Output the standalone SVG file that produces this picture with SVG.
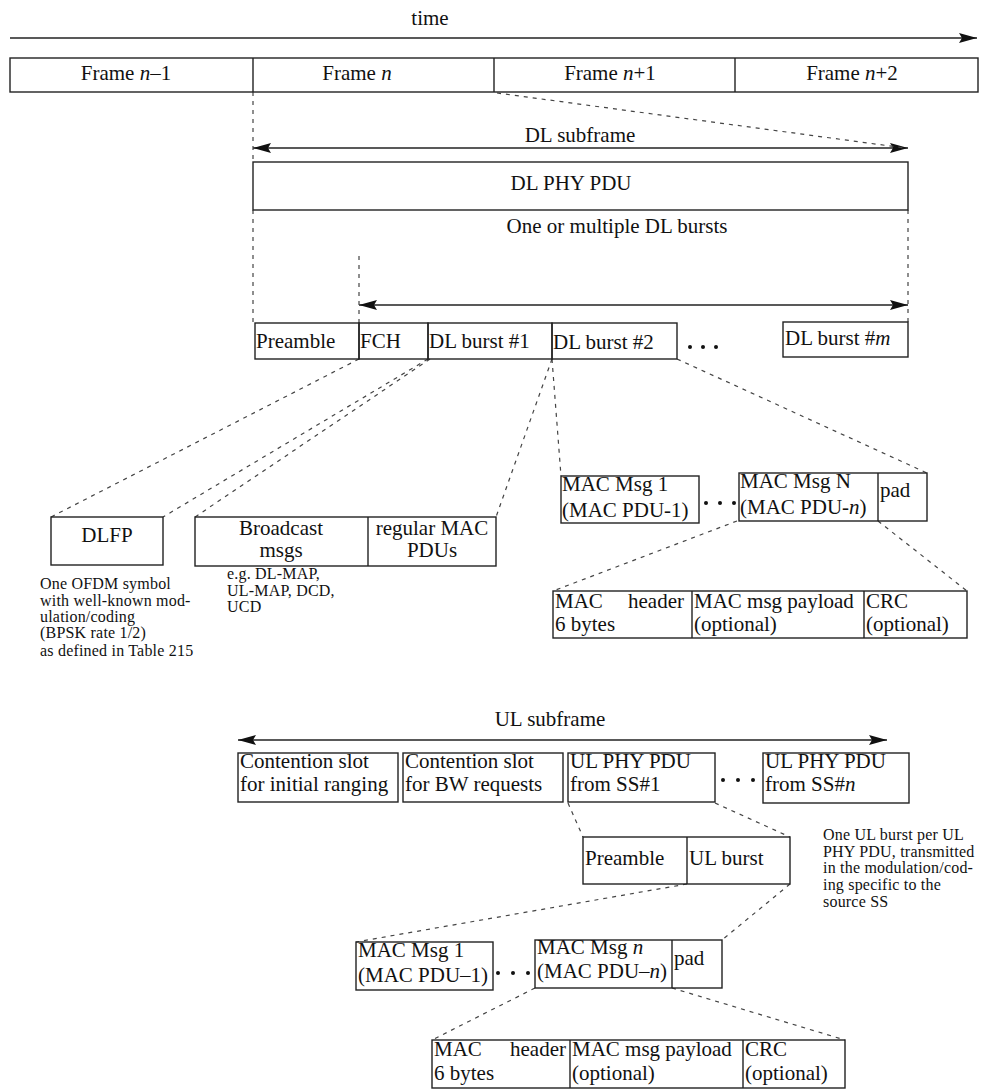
<svg xmlns="http://www.w3.org/2000/svg" width="983" height="1091" viewBox="0 0 983 1091" font-family="'Liberation Serif', 'DejaVu Serif', serif">
<style>
.box{fill:none;stroke:#222;stroke-width:1.4}
.ln{fill:none;stroke:#222;stroke-width:1.4}
.dash{fill:none;stroke:#444;stroke-width:1.2;stroke-dasharray:4 5}
text{font-family:'Liberation Serif','DejaVu Serif',serif;font-size:21px;fill:#111}
text.s{font-size:16px;letter-spacing:0.2px}
.c{text-anchor:middle}
.e{text-anchor:end}
.dot{fill:#111}
</style>
<defs>
<marker id="ah" viewBox="0 0 18 10" refX="18" refY="5" markerWidth="18" markerHeight="10" markerUnits="userSpaceOnUse" orient="auto-start-reverse">
<path d="M0,0 L18,5 L0,10 L3,5 z" fill="#111"/>
</marker>
</defs>
<rect width="983" height="1091" fill="#fff"/>

<g id="connectors">
<line class="ln" x1="10" y1="38" x2="977" y2="38" marker-end="url(#ah)"/>
<line class="ln" x1="253" y1="148" x2="908" y2="148" marker-start="url(#ah)" marker-end="url(#ah)"/>
<line class="ln" x1="359" y1="305" x2="908" y2="305" marker-start="url(#ah)" marker-end="url(#ah)"/>
<line class="ln" x1="238" y1="740" x2="887" y2="740" marker-start="url(#ah)" marker-end="url(#ah)"/>
<line class="dash" x1="253" y1="92" x2="253" y2="162"/>
<line class="dash" x1="497" y1="93" x2="905" y2="148"/>
<line class="dash" x1="253" y1="210" x2="253" y2="323"/>
<line class="dash" x1="908" y1="210" x2="908" y2="322"/>
<line class="dash" x1="359" y1="256" x2="359" y2="323"/>
<line class="dash" x1="359" y1="359" x2="51" y2="517"/>
<line class="dash" x1="428" y1="359" x2="163" y2="517"/>
<line class="dash" x1="430" y1="359" x2="195" y2="517"/>
<line class="dash" x1="552" y1="359" x2="496" y2="517"/>
<line class="dash" x1="552" y1="359" x2="561" y2="476"/>
<line class="dash" x1="677" y1="359" x2="927" y2="473"/>
<line class="dash" x1="737" y1="521" x2="553" y2="591"/>
<line class="dash" x1="878" y1="521" x2="967" y2="591"/>
<line class="dash" x1="568" y1="803" x2="583" y2="837"/>
<line class="dash" x1="715" y1="803" x2="790" y2="837"/>
<line class="dash" x1="687" y1="884" x2="356" y2="942"/>
<line class="dash" x1="790" y1="884" x2="722" y2="940"/>
<line class="dash" x1="535" y1="988" x2="432" y2="1040"/>
<line class="dash" x1="672" y1="988" x2="845" y2="1040"/>
</g>

<g id="time-label"><text class="c" x="430" y="25">time</text></g>

<g id="frames">
<rect class="box" x="10" y="58" width="968" height="34"/>
<line class="ln" x1="253" y1="58" x2="253" y2="92"/>
<line class="ln" x1="494" y1="58" x2="494" y2="92"/>
<line class="ln" x1="735" y1="58" x2="735" y2="92"/>
<text class="c" x="126" y="80">Frame <tspan font-style="italic">n</tspan>–1</text>
<text class="c" x="357" y="80">Frame <tspan font-style="italic">n</tspan></text>
<text class="c" x="610" y="80">Frame <tspan font-style="italic">n</tspan>+1</text>
<text class="c" x="852" y="80">Frame <tspan font-style="italic">n</tspan>+2</text>
</g>

<g id="dl-subframe-label"><text class="c" x="580" y="142">DL subframe</text></g>

<g id="dl-phy-pdu">
<rect class="box" x="253" y="162" width="655" height="48"/>
<text class="c" x="571" y="190">DL PHY PDU</text>
</g>
<g id="dl-bursts-label"><text class="c" x="617" y="233">One or multiple DL bursts</text></g>

<g id="dl-row">
<rect class="box" x="255" y="323" width="104" height="36"/>
<rect class="box" x="359" y="323" width="69" height="36"/>
<rect class="box" x="428" y="323" width="124" height="36"/>
<rect class="box" x="552" y="323" width="125" height="36"/>
<text x="256" y="348">Preamble</text>
<text x="360" y="348">FCH</text>
<text x="429" y="348">DL burst #1</text>
<text x="553" y="349">DL burst #2</text>
<circle class="dot" cx="690" cy="347" r="2"/>
<circle class="dot" cx="703" cy="347" r="2"/>
<circle class="dot" cx="716" cy="347" r="2"/>
</g>
<g id="dl-burst-m">
<rect class="box" x="783" y="322" width="125" height="35"/>
<text x="785" y="345">DL burst #<tspan font-style="italic">m</tspan></text>
</g>

<g id="dlfp">
<rect class="box" x="51" y="517" width="112" height="48"/>
<text class="c" x="107" y="542">DLFP</text>
<text class="s" x="40" y="589">One OFDM symbol</text>
<text class="s" x="40" y="606">with well-known mod-</text>
<text class="s" x="40" y="622">ulation/coding</text>
<text class="s" x="40" y="638">(BPSK rate 1/2)</text>
<text class="s" x="40" y="656">as defined in Table 215</text>
</g>

<g id="broadcast">
<rect class="box" x="195" y="517" width="301" height="49"/>
<line class="ln" x1="368" y1="517" x2="368" y2="566"/>
<text class="c" x="281" y="535">Broadcast</text>
<text class="c" x="281" y="557">msgs</text>
<text class="c" x="432" y="535">regular MAC</text>
<text class="c" x="432" y="557">PDUs</text>
<text class="s" x="227" y="579">e.g. DL-MAP,</text>
<text class="s" x="227" y="596">UL-MAP, DCD,</text>
<text class="s" x="227" y="612">UCD</text>
</g>

<g id="dl-mac-msgs">
<rect class="box" x="561" y="476" width="138" height="47"/>
<text x="562" y="491">MAC Msg 1</text>
<text x="562" y="517">(MAC PDU-1)</text>
<circle class="dot" cx="706" cy="503" r="2"/>
<circle class="dot" cx="720" cy="503" r="2"/>
<circle class="dot" cx="734" cy="503" r="2"/>
<rect class="box" x="739" y="473" width="188" height="48"/>
<line class="ln" x1="878" y1="473" x2="878" y2="521"/>
<text x="740" y="488">MAC Msg N</text>
<text x="740" y="514">(MAC PDU-<tspan font-style="italic">n</tspan>)</text>
<text x="880" y="497">pad</text>
</g>

<g id="dl-mac-pdu">
<rect class="box" x="553" y="591" width="414" height="47"/>
<line class="ln" x1="692" y1="591" x2="692" y2="638"/>
<line class="ln" x1="864" y1="591" x2="864" y2="638"/>
<text x="555" y="608">MAC</text>
<text class="e" x="684" y="608">header</text>
<text x="555" y="631">6 bytes</text>
<text x="694" y="608">MAC msg payload</text>
<text x="694" y="631">(optional)</text>
<text x="866" y="608">CRC</text>
<text x="866" y="631">(optional)</text>
</g>

<g id="ul-subframe-label"><text class="c" x="550" y="726">UL subframe</text></g>

<g id="ul-row">
<rect class="box" x="238" y="753" width="160" height="49"/>
<text x="240" y="768">Contention slot</text>
<text x="240" y="791">for initial ranging</text>
<rect class="box" x="403" y="753" width="160" height="49"/>
<text x="405" y="768">Contention slot</text>
<text x="405" y="791">for BW requests</text>
<rect class="box" x="568" y="753" width="147" height="49"/>
<text x="570" y="768">UL PHY PDU</text>
<text x="570" y="791">from SS#1</text>
<circle class="dot" cx="723" cy="780" r="2"/>
<circle class="dot" cx="738" cy="780" r="2"/>
<circle class="dot" cx="753" cy="780" r="2"/>
<rect class="box" x="763" y="753" width="146" height="50"/>
<text x="765" y="768">UL PHY PDU</text>
<text x="765" y="791">from SS#<tspan font-style="italic">n</tspan></text>
</g>

<g id="ul-burst">
<rect class="box" x="583" y="837" width="207" height="47"/>
<line class="ln" x1="687" y1="837" x2="687" y2="884"/>
<text x="585" y="865">Preamble</text>
<text x="689" y="865">UL burst</text>
</g>
<g id="ul-note">
<text class="s" x="823" y="840">One UL burst per UL</text>
<text class="s" x="823" y="857">PHY PDU, transmitted</text>
<text class="s" x="823" y="873">in the modulation/cod-</text>
<text class="s" x="823" y="890">ing specific to the</text>
<text class="s" x="823" y="907">source SS</text>
</g>

<g id="ul-mac-msgs">
<rect class="box" x="356" y="942" width="137" height="48"/>
<text x="358" y="957">MAC Msg 1</text>
<text x="358" y="982">(MAC PDU–1)</text>
<circle class="dot" cx="498" cy="973" r="2"/>
<circle class="dot" cx="513" cy="973" r="2"/>
<circle class="dot" cx="528" cy="973" r="2"/>
<rect class="box" x="535" y="940" width="187" height="48"/>
<line class="ln" x1="672" y1="940" x2="672" y2="988"/>
<text x="537" y="954">MAC Msg <tspan font-style="italic">n</tspan></text>
<text x="537" y="978">(MAC PDU–<tspan font-style="italic">n</tspan>)</text>
<text x="674" y="965">pad</text>
</g>

<g id="ul-mac-pdu">
<rect class="box" x="432" y="1040" width="413" height="48"/>
<line class="ln" x1="570" y1="1040" x2="570" y2="1088"/>
<line class="ln" x1="743" y1="1040" x2="743" y2="1088"/>
<text x="434" y="1056">MAC</text>
<text class="e" x="566" y="1056">header</text>
<text x="434" y="1080">6 bytes</text>
<text x="572" y="1056">MAC msg payload</text>
<text x="572" y="1080">(optional)</text>
<text x="745" y="1056">CRC</text>
<text x="745" y="1080">(optional)</text>
</g>
</svg>
